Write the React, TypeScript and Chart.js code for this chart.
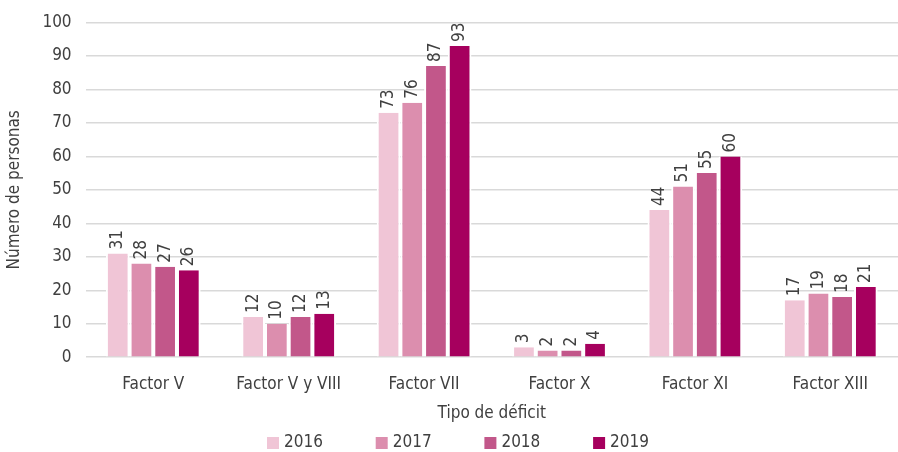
import React, { useEffect, useRef } from "react";
import { Chart, registerables } from "chart.js";

Chart.register(...registerables);

const categories = ["Factor V", "Factor V y VIII", "Factor VII", "Factor X", "Factor XI", "Factor XIII"];
const years = ["2016", "2017", "2018", "2019"];
const values2016 = [31, 12, 73, 3, 44, 17];
const values2017 = [28, 10, 76, 2, 51, 19];
const values2018 = [27, 12, 87, 2, 55, 18];
const values2019 = [26, 13, 93, 4, 60, 21];
const colors = ["#F0C5D6", "#DC8EAE", "#C2578A", "#A6005E"];

const FONT = "'Liberation Sans Narrow', 'DejaVu Sans Condensed', 'Roboto Condensed', sans-serif";
const TEXT = "#404040";

const valueLabels = {
  id: "valueLabels",
  afterDatasetsDraw(chart: any) {
    const ctx = chart.ctx;
    ctx.save();
    ctx.font = `17px ${FONT}`;
    ctx.fillStyle = TEXT;
    ctx.textAlign = "left";
    ctx.textBaseline = "middle";
    chart.data.datasets.forEach((ds: any, i: number) => {
      const meta = chart.getDatasetMeta(i);
      meta.data.forEach((bar: any, j: number) => {
        ctx.save();
        ctx.translate(bar.x, bar.y - 4);
        ctx.rotate(-Math.PI / 2);
        ctx.fillText(String(ds.data[j]), 0, 0);
        ctx.restore();
      });
    });
    ctx.restore();
  },
};

const customLegend = {
  id: "customLegend",
  afterDraw(chart: any) {
    const ctx = chart.ctx;
    ctx.save();
    ctx.font = `17px ${FONT}`;
    ctx.fillStyle = TEXT;
    ctx.textAlign = "left";
    ctx.textBaseline = "middle";
    const y = chart.height - 9;
    const startX = 267;
    const step = 108.7;
    chart.data.datasets.forEach((ds: any, i: number) => {
      const x = startX + i * step;
      ctx.fillStyle = ds.backgroundColor;
      ctx.fillRect(x, y - 6, 12, 12);
      ctx.fillStyle = TEXT;
      ctx.fillText(ds.label, x + 17, y);
    });
    ctx.restore();
  },
};

export default function App() {
  const ref = useRef<HTMLCanvasElement>(null);
  useEffect(() => {
    const series = [values2016, values2017, values2018, values2019];
    const chart = new Chart(ref.current!, {
      type: "bar",
      data: {
        labels: categories,
        datasets: years.map((y, i) => ({
          label: y,
          data: series[i],
          backgroundColor: colors[i],
          borderColor: "#ffffff",
          borderWidth: { left: 2, right: 2, top: 0, bottom: 0 },
          borderSkipped: false,
          categoryPercentage: 0.7,
          barPercentage: 1,
        })),
      },
      options: {
        animation: false,
        responsive: false,
        maintainAspectRatio: false,
        layout: { padding: { top: 19, right: 0, left: 4, bottom: 28 } },
        plugins: {
          tooltip: { enabled: false },
          legend: { display: false },
        },
        scales: {
          x: {
            grid: { display: false },
            border: { display: false },
            ticks: { color: TEXT, font: { family: FONT, size: 17 }, padding: 9 },
            title: { display: true, text: "Tipo de déficit", color: TEXT, font: { family: FONT, size: 17 }, padding: { top: 0, bottom: 0 } },
          },
          y: {
            min: 0,
            max: 100,
            ticks: { stepSize: 10, color: TEXT, font: { family: FONT, size: 17, lineHeight: 1 }, padding: 14 },
            grid: { color: "#d9d9d9", lineWidth: 1.5, drawTicks: false },
            border: { display: false },
            title: { display: true, text: "Número de personas", color: TEXT, font: { family: FONT, size: 17 }, padding: { top: 0, bottom: 4 } },
          },
        },
      },
      plugins: [valueLabels, customLegend],
    });
    return () => chart.destroy();
  }, []);
  return (
    <div style={{ position: "absolute", left: 0, top: 0, width: 898, height: 452, background: "#fff" }}>
      <canvas ref={ref} width={898} height={452} />
    </div>
  );
}
